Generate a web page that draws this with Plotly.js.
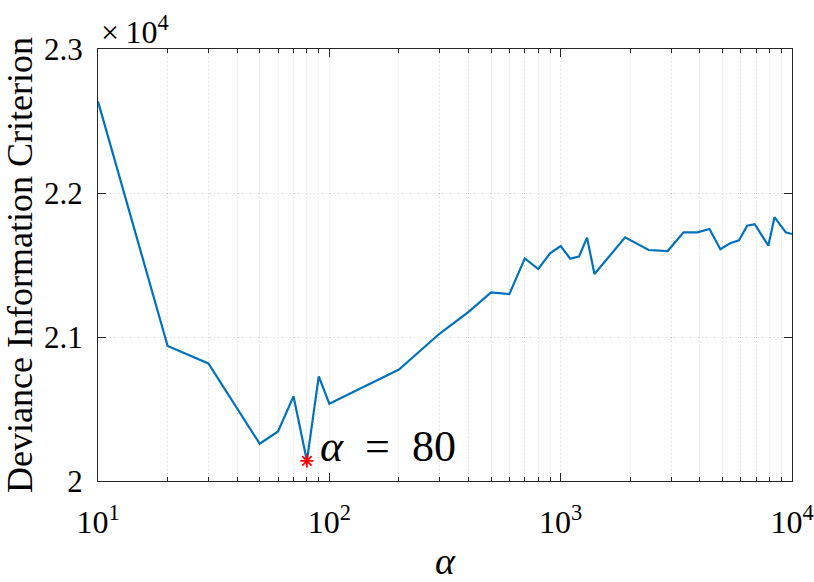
<!DOCTYPE html>
<html>
<head>
<meta charset="utf-8">
<script src="https://cdn.plot.ly/plotly-3.0.1.min.js"></script>
<style>
html,body{margin:0;padding:0;background:#fff;}
#chart{width:814px;height:582px;}
</style>
</head>
<body>
<div id="chart"></div>
<script>
// Data
var alphaValues = [10,20,30,50,60,70,80,90,100,200,300,400,500,600,700,800,900,1000,1100,1200,1300,1400,1900,2400,2900,3400,3900,4400,4900,5400,5900,6400,6900,7900,8400,9400,10000];
var dicValues = [22636,20938,20816,20259,20344,20588,20140,20727,20537,20774,21024,21175,21310,21298,21546,21472,21581,21632,21544,21558,21690,21437,21692,21604,21597,21727,21727,21750,21609,21651,21672,21773,21783,21634,21832,21727,21715];
var xTickVals = [10,100,1000,10000];
var xTickText = ['10<sup>1</sup>','10<sup>2</sup>','10<sup>3</sup>','10<sup>4</sup>'];
var yTickVals = [20000,21000,22000,23000];
var yTickText = ['2','2.1','2.2','2.3'];

// minor log ticks
var xMinorVals = [];
[10,100,1000].forEach(function(d){ for (var k=2;k<=9;k++) xMinorVals.push(k*d); });

// best alpha (minimum DIC)
var minIdx = 0;
for (var i=1;i<dicValues.length;i++) if (dicValues[i] < dicValues[minIdx]) minIdx = i;
var bestAlpha = alphaValues[minIdx], bestDic = dicValues[minIdx];

var FONT = 'Liberation Serif';
var axisCol = '#262626';
var gridCol = '#d2d2d2';
var gridDash = '1px,3px';

var traces = [
  {x: alphaValues, y: dicValues, type: 'scatter', mode: 'lines',
   line: {color: '#0072BD', width: 2.2}, hoverinfo: 'x+y', showlegend: false},
  {x: [bestAlpha], y: [bestDic], type: 'scatter', mode: 'markers',
   marker: {symbol: 'asterisk-open', size: 11, color: '#ff0000', line: {color: '#ff0000', width: 1.8}},
   showlegend: false}
];

var layout = {
  width: 814, height: 582,
  margin: {l: 98, r: 22, t: 49, b: 101, pad: 0},
  paper_bgcolor: '#ffffff', plot_bgcolor: '#ffffff',
  font: {family: FONT, color: '#000000', size: 31},
  xaxis: {
    type: 'log', range: [1, 4],
    tickmode: 'array', tickvals: xTickVals, ticktext: xTickText,
    ticks: 'inside', ticklen: 8, tickwidth: 1, tickcolor: axisCol,
    showline: true, linecolor: axisCol, linewidth: 1, mirror: 'ticks',
    showgrid: true, gridcolor: gridCol, griddash: gridDash, gridwidth: 1,
    zeroline: false,
    tickfont: {family: FONT, size: 32, color: '#000'},
    ticklabelstandoff: 13,
    minor: {tickmode: 'array', tickvals: xMinorVals, ticks: 'inside', ticklen: 4, tickcolor: axisCol, tickwidth: 1,
            showgrid: true, gridcolor: gridCol, griddash: gridDash, gridwidth: 1},
    title: {text: '<i>α</i>', font: {family: FONT, size: 38, color: '#000'}, standoff: 14},
    automargin: false
  },
  yaxis: {
    range: [20000, 23000],
    tickmode: 'array', tickvals: yTickVals, ticktext: yTickText,
    ticks: 'inside', ticklen: 8, tickwidth: 1, tickcolor: axisCol,
    showline: true, linecolor: axisCol, linewidth: 1, mirror: 'ticks',
    showgrid: true, gridcolor: gridCol, griddash: gridDash, gridwidth: 1,
    zeroline: false,
    tickfont: {family: FONT, size: 31, color: '#000'},
    ticklabelstandoff: 8,
    title: {text: 'Deviance Information Criterion', font: {family: FONT, size: 36, color: '#000'}, standoff: 10},
    automargin: false
  },
  annotations: [
    {xref: 'paper', yref: 'paper', x: 0, y: 1, xanchor: 'left', yanchor: 'bottom',
     text: '×&#8201;10<sup>4</sup>', showarrow: false, xshift: 1, yshift: -3,
     font: {family: FONT, size: 32, color: '#000'}},
    {xref: 'x', yref: 'y', x: Math.log10(bestAlpha), y: bestDic, xanchor: 'left', yanchor: 'middle',
     text: '<i>α</i>&nbsp;&nbsp;=&nbsp;&nbsp;' + bestAlpha, showarrow: false, xshift: 11, yshift: 14,
     font: {family: FONT, size: 44, color: '#000'}}
  ]
};

Plotly.newPlot('chart', traces, layout, {displayModeBar: false, staticPlot: true});
</script>
</body>
</html>
